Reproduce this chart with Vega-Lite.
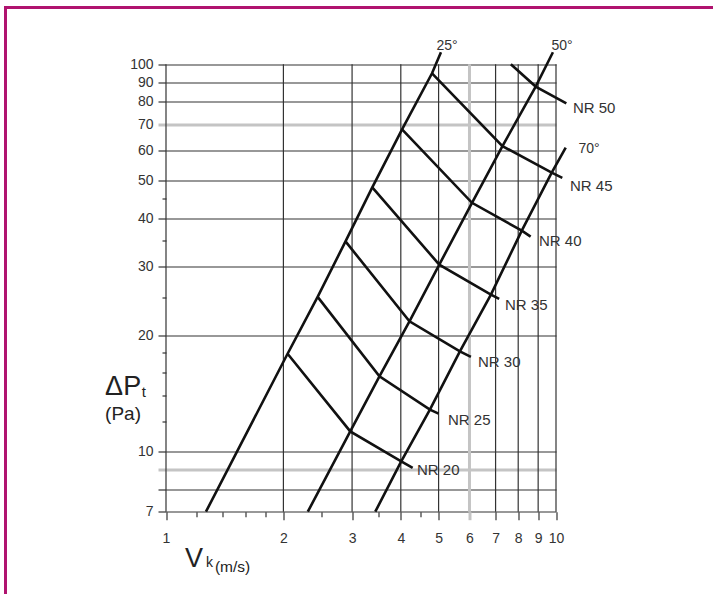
{
  "$schema": "https://vega.github.io/schema/vega-lite/v6.json",
  "width": 720,
  "height": 600,
  "autosize": "none",
  "padding": {"left": 5.5, "top": 7.5, "right": 0, "bottom": 0},
  "background": "white",
  "config": {
    "view": {"stroke": "#b0136f", "strokeWidth": 3},
    "font": "Liberation Sans",
    "text": {"font": "Liberation Sans"}
  },
  "datasets": {
    "vgrid": [
      {"g": 1}, {"g": 2}, {"g": 3}, {"g": 4}, {"g": 5},
      {"g": 6}, {"g": 7}, {"g": 8}, {"g": 9}, {"g": 10}
    ],
    "curves": [
      {"curve": "25°", "i": 0, "v": 1.266, "p": 7},
      {"curve": "25°", "i": 1, "v": 2.05, "p": 17.9},
      {"curve": "25°", "i": 2, "v": 2.448, "p": 25.1},
      {"curve": "25°", "i": 3, "v": 2.886, "p": 34.9},
      {"curve": "25°", "i": 4, "v": 3.38, "p": 48.1},
      {"curve": "25°", "i": 5, "v": 4.03, "p": 67.9},
      {"curve": "25°", "i": 6, "v": 4.81, "p": 94.8},
      {"curve": "25°", "i": 7, "v": 5.07, "p": 107.4},
      {"curve": "50°", "i": 0, "v": 2.31, "p": 7},
      {"curve": "50°", "i": 1, "v": 2.968, "p": 11.28},
      {"curve": "50°", "i": 2, "v": 3.526, "p": 15.65},
      {"curve": "50°", "i": 3, "v": 4.21, "p": 21.7},
      {"curve": "50°", "i": 4, "v": 5.02, "p": 30.4},
      {"curve": "50°", "i": 5, "v": 6.09, "p": 43.9},
      {"curve": "50°", "i": 6, "v": 7.29, "p": 61.5},
      {"curve": "50°", "i": 7, "v": 8.87, "p": 87.6},
      {"curve": "50°", "i": 8, "v": 9.82, "p": 107.4},
      {"curve": "70°", "i": 0, "v": 3.44, "p": 7},
      {"curve": "70°", "i": 1, "v": 4.01, "p": 9.44},
      {"curve": "70°", "i": 2, "v": 4.75, "p": 12.84},
      {"curve": "70°", "i": 3, "v": 5.67, "p": 18.16},
      {"curve": "70°", "i": 4, "v": 6.81, "p": 25.45},
      {"curve": "70°", "i": 5, "v": 8.17, "p": 37.2},
      {"curve": "70°", "i": 6, "v": 9.75, "p": 52.5},
      {"curve": "70°", "i": 7, "v": 10.59, "p": 60.9},
      {"curve": "NR 20", "i": 0, "v": 2.05, "p": 17.9},
      {"curve": "NR 20", "i": 1, "v": 2.968, "p": 11.28},
      {"curve": "NR 20", "i": 2, "v": 4.01, "p": 9.44},
      {"curve": "NR 20", "i": 3, "v": 4.29, "p": 9.08},
      {"curve": "NR 25", "i": 0, "v": 2.448, "p": 25.1},
      {"curve": "NR 25", "i": 1, "v": 3.526, "p": 15.65},
      {"curve": "NR 25", "i": 2, "v": 4.75, "p": 12.84},
      {"curve": "NR 25", "i": 3, "v": 5.0, "p": 12.54},
      {"curve": "NR 30", "i": 0, "v": 2.886, "p": 34.9},
      {"curve": "NR 30", "i": 1, "v": 4.21, "p": 21.7},
      {"curve": "NR 30", "i": 2, "v": 5.67, "p": 18.16},
      {"curve": "NR 30", "i": 3, "v": 6.05, "p": 17.56},
      {"curve": "NR 35", "i": 0, "v": 3.38, "p": 48.1},
      {"curve": "NR 35", "i": 1, "v": 5.02, "p": 30.4},
      {"curve": "NR 35", "i": 2, "v": 6.81, "p": 25.45},
      {"curve": "NR 35", "i": 3, "v": 7.15, "p": 24.8},
      {"curve": "NR 40", "i": 0, "v": 4.03, "p": 67.9},
      {"curve": "NR 40", "i": 1, "v": 6.09, "p": 43.9},
      {"curve": "NR 40", "i": 2, "v": 8.17, "p": 37.2},
      {"curve": "NR 40", "i": 3, "v": 8.61, "p": 35.9},
      {"curve": "NR 45", "i": 0, "v": 4.81, "p": 94.8},
      {"curve": "NR 45", "i": 1, "v": 7.29, "p": 61.5},
      {"curve": "NR 45", "i": 2, "v": 9.75, "p": 52.5},
      {"curve": "NR 45", "i": 3, "v": 10.38, "p": 50.9},
      {"curve": "NR 50", "i": 0, "v": 7.66, "p": 100},
      {"curve": "NR 50", "i": 1, "v": 8.87, "p": 87.6},
      {"curve": "NR 50", "i": 2, "v": 10.63, "p": 79.3}
    ],
    "angles": [
      {"label": "25°", "v": 5.254, "p": 108.9},
      {"label": "50°", "v": 10.36, "p": 108.9},
      {"label": "70°", "v": 12.15, "p": 59.0}
    ],
    "nr": [
      {"label": "NR 50", "v": 11.05, "p": 74.86},
      {"label": "NR 45", "v": 10.86, "p": 46.96},
      {"label": "NR 40", "v": 9.045, "p": 33.86},
      {"label": "NR 35", "v": 7.4, "p": 23.22},
      {"label": "NR 30", "v": 6.31, "p": 16.55},
      {"label": "NR 25", "v": 5.285, "p": 11.72},
      {"label": "NR 20", "v": 4.402, "p": 8.71}
    ]
  },
  "layer": [
    {
      "data": {"name": "vgrid"},
      "mark": {"type": "rule"},
      "encoding": {
        "x": {
          "field": "g", "type": "quantitative",
          "scale": {"type": "log", "domain": [1, 10], "range": [160.5, 550.5], "nice": false},
          "axis": {
            "orient": "bottom", "offset": -95.8, "title": null, "domain": false,
            "values": [1, 1.2, 1.4, 1.6, 1.8, 2, 2.5, 3, 3.5, 4, 4.5, 5, 6, 7, 8, 9, 10],
            "labelExpr": "datum.value == round(datum.value) ? datum.value + '' : ''",
            "labelFontSize": 14, "labelColor": "#333", "labelPadding": 12,
            "labelOverlap": false, "labelFlush": false, "labelBound": false,
            "grid": false,
            "tickColor": {"condition": {"test": "datum.value == 6", "value": "#c4c4c4"}, "value": "#333"},
            "tickWidth": {"condition": {"test": "datum.value == 6", "value": 3}, "value": 1.2},
            "tickSize": {"condition": {"test": "datum.value != round(datum.value)", "value": 5}, "value": 8}
          }
        },
        "y": {
          "datum": 7, "type": "quantitative",
          "scale": {"type": "log", "domain": [7, 100], "range": [504.2, 56.8], "nice": false},
          "axis": {
            "orient": "left", "offset": -160.5, "title": null, "domain": false,
            "values": [7, 8, 9, 10, 12, 14, 16, 18, 20, 25, 30, 35, 40, 45, 50, 60, 70, 80, 90, 100],
            "labelExpr": "indexof([7,10,20,30,40,50,60,70,80,90,100], datum.value) >= 0 ? datum.value + '' : ''",
            "labelFontSize": 14, "labelColor": "#333", "labelPadding": 5,
            "labelOverlap": false, "labelFlush": false, "labelBound": false,
            "grid": true,
            "gridColor": {"condition": [{"test": "datum.value == 9 || datum.value == 70", "value": "#c4c4c4"}, {"test": "indexof([12,14,16,18,25,35,45], datum.value) >= 0", "value": "rgba(0,0,0,0)"}], "value": "#333"},
            "gridWidth": {"condition": {"test": "datum.value == 9 || datum.value == 70", "value": 3}, "value": 1.2},
            "tickColor": {"condition": {"test": "datum.value == 9 || datum.value == 70", "value": "#c4c4c4"}, "value": "#333"},
            "tickWidth": {"condition": {"test": "datum.value == 9 || datum.value == 70", "value": 3}, "value": 1.2},
            "tickSize": {"condition": {"test": "indexof([12,14,16,18,25,35,45], datum.value) >= 0", "value": 4}, "value": 8}
          }
        },
        "y2": {"datum": 100},
        "color": {"condition": {"test": "datum.g == 6", "value": "#c4c4c4"}, "value": "#333"},
        "strokeWidth": {"condition": {"test": "datum.g == 6", "value": 3}, "value": 1.2}
      }
    },
    {
      "data": {"name": "curves"},
      "mark": {"type": "line", "color": "#111", "strokeWidth": 2.6, "strokeJoin": "miter"},
      "encoding": {
        "x": {"field": "v", "type": "quantitative"},
        "y": {"field": "p", "type": "quantitative"},
        "detail": {"field": "curve", "type": "nominal"},
        "order": {"field": "i", "type": "quantitative"}
      }
    },
    {
      "data": {"name": "angles"},
      "mark": {"type": "text", "fontSize": 14, "align": "center", "baseline": "alphabetic", "color": "#333"},
      "encoding": {
        "x": {"field": "v", "type": "quantitative"},
        "y": {"field": "p", "type": "quantitative"},
        "text": {"field": "label"}
      }
    },
    {
      "data": {"name": "nr"},
      "mark": {"type": "text", "fontSize": 15, "align": "left", "baseline": "alphabetic", "color": "#333"},
      "encoding": {
        "x": {"field": "v", "type": "quantitative"},
        "y": {"field": "p", "type": "quantitative"},
        "text": {"field": "label"}
      }
    },
    {
      "data": {"values": [{}]},
      "mark": {"type": "text", "fontSize": 27, "align": "left", "baseline": "alphabetic", "color": "#222"},
      "encoding": {"x": {"datum": 0.698, "type": "quantitative"}, "y": {"datum": 14.0, "type": "quantitative"}, "text": {"value": "ΔP"}}
    },
    {
      "data": {"values": [{}]},
      "mark": {"type": "text", "fontSize": 15, "align": "left", "baseline": "alphabetic", "color": "#222"},
      "encoding": {"x": {"datum": 0.866, "type": "quantitative"}, "y": {"datum": 13.84, "type": "quantitative"}, "text": {"value": "t"}}
    },
    {
      "data": {"values": [{}]},
      "mark": {"type": "text", "fontSize": 19, "align": "left", "baseline": "alphabetic", "color": "#222"},
      "encoding": {"x": {"datum": 0.698, "type": "quantitative"}, "y": {"datum": 12.07, "type": "quantitative"}, "text": {"value": "(Pa)"}}
    },
    {
      "data": {"values": [{}]},
      "mark": {"type": "text", "fontSize": 27, "align": "left", "baseline": "alphabetic", "color": "#222"},
      "encoding": {"x": {"datum": 1.119, "type": "quantitative"}, "y": {"datum": 5.04, "type": "quantitative"}, "text": {"value": "V"}}
    },
    {
      "data": {"values": [{}]},
      "mark": {"type": "text", "fontSize": 14, "align": "left", "baseline": "alphabetic", "color": "#222"},
      "encoding": {"x": {"datum": 1.266, "type": "quantitative"}, "y": {"datum": 5.04, "type": "quantitative"}, "text": {"value": "k"}}
    },
    {
      "data": {"values": [{}]},
      "mark": {"type": "text", "fontSize": 15.5, "align": "left", "baseline": "alphabetic", "color": "#222"},
      "encoding": {"x": {"datum": 1.335, "type": "quantitative"}, "y": {"datum": 4.9, "type": "quantitative"}, "text": {"value": "(m/s)"}}
    }
  ]
}
